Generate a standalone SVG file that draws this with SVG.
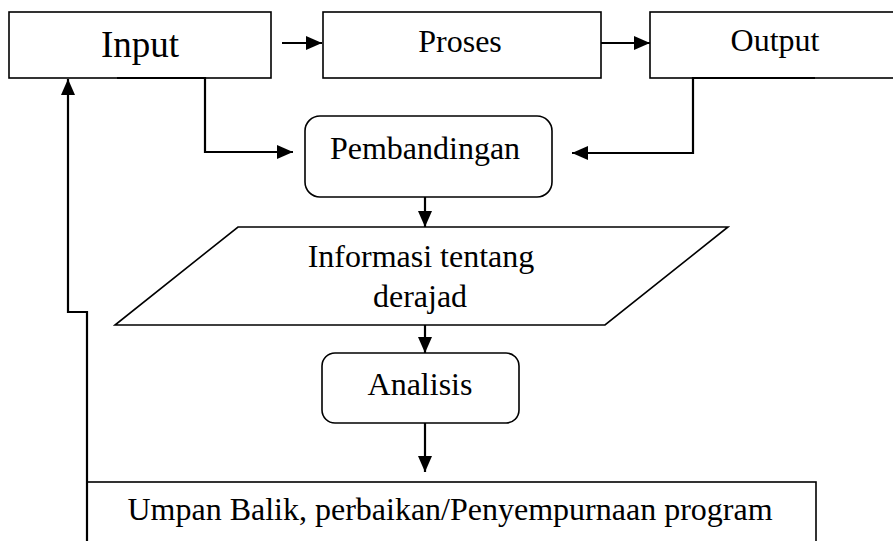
<svg xmlns="http://www.w3.org/2000/svg" width="893" height="541" viewBox="0 0 893 541">
<style>
.box{fill:#fff;stroke:#000;stroke-width:1.6}
.lbl{font-family:"Liberation Serif","Times New Roman",serif;font-size:32px;fill:#000;text-anchor:middle}
.conn{fill:none;stroke:#000;stroke-width:2.2}
</style>
<defs>
<marker id="ah" markerUnits="userSpaceOnUse" markerWidth="17" markerHeight="15" refX="16" refY="7" orient="auto">
<path d="M0,0 L16,7 L0,14 z" fill="#000"/>
</marker>
</defs>
<rect width="893" height="541" fill="#fff"/>
<g id="input">
<rect class="box" x="9" y="12" width="262" height="66"/>
<text class="lbl" x="140" y="57" style="font-size:37px">Input</text>
</g>
<g id="proses">
<rect class="box" x="323" y="12" width="278" height="66"/>
<text class="lbl" x="460" y="52">Proses</text>
</g>
<g id="output">
<rect class="box" x="650" y="12" width="260" height="66"/>
<text class="lbl" x="775" y="51">Output</text>
</g>
<g id="pembandingan">
<rect class="box" x="305" y="116" width="247" height="81" rx="15"/>
<text class="lbl" x="425" y="159">Pembandingan</text>
</g>
<g id="informasi">
<polygon class="box" points="238,227 728,227 605,325 115,325"/>
<text class="lbl" x="421" y="267">Informasi tentang</text>
<text class="lbl" x="420" y="307">derajad</text>
</g>
<g id="analisis">
<rect class="box" x="322" y="353" width="197" height="70" rx="13"/>
<text class="lbl" x="420" y="395">Analisis</text>
</g>
<g id="umpan-balik">
<rect class="box" x="87" y="482" width="729" height="80"/>
<text class="lbl" x="450" y="520">Umpan Balik, perbaikan/Penyempurnaan program</text>
</g>
<g id="connectors">
<path class="conn" d="M282,43 H322" marker-end="url(#ah)"/>
<path class="conn" d="M601,43 H650" marker-end="url(#ah)"/>
<path class="conn" d="M117,78 H205 V152 H293" marker-end="url(#ah)"/>
<path class="conn" d="M815,78 H693 V153 H572" marker-end="url(#ah)"/>
<path class="conn" d="M425,197 V227" marker-end="url(#ah)"/>
<path class="conn" d="M425,325 V353" marker-end="url(#ah)"/>
<path class="conn" d="M425,423 V472" marker-end="url(#ah)"/>
<path class="conn" d="M87,541 V312 H68 V79" marker-end="url(#ah)"/>
</g>
</svg>
